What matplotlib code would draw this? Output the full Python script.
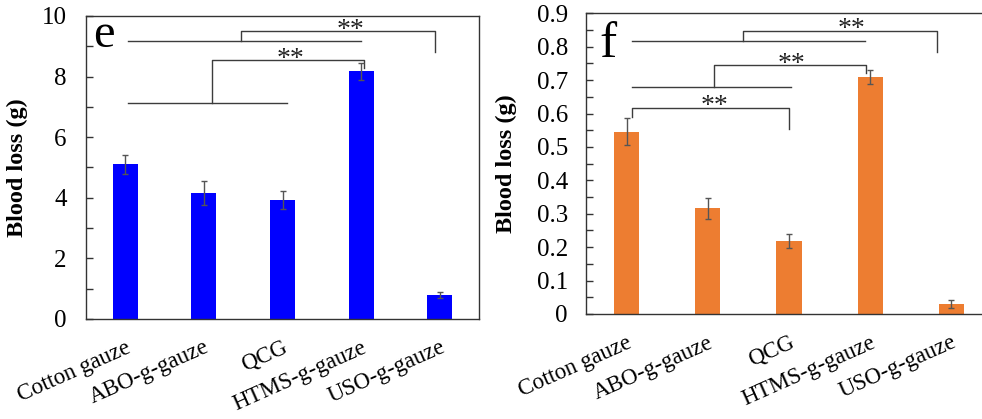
import numpy as np
import matplotlib.pyplot as plt
from matplotlib.ticker import MultipleLocator

plt.rcParams['font.family'] = ['Liberation Serif', 'DejaVu Serif']

groups = ['Cotton gauze', 'ABO-g-gauze', 'QCG', 'HTMS-g-gauze', 'USO-g-gauze']
loss_e = [5.1, 4.15, 3.92, 8.18, 0.79]
err_e = [0.3, 0.4, 0.3, 0.28, 0.1]
loss_f = [0.546, 0.316, 0.219, 0.709, 0.030]
err_f = [0.041, 0.031, 0.021, 0.020, 0.011]
ticks_e = [0, 2, 4, 6, 8, 10]
ticks_f = [0, 0.1, 0.2, 0.3, 0.4, 0.5, 0.6, 0.7, 0.8, 0.9]

LINE = '#3c3c3c'


def hline(ax, x0, x1, y):
    ax.plot([x0, x1], [y, y], color=LINE, lw=1.0, clip_on=False)


def bracket(ax, x0, x1, y, y0, y1, sx):
    ax.plot([x0, x0, x1, x1], [y0, y, y, y1], color=LINE, lw=1.0, clip_on=False)
    ax.annotate('**', (sx, y), xytext=(0, -4), textcoords='offset points',
                ha='center', va='baseline', fontsize=20, color='#222222')


def style(ax, ymax, ticks, minor, color, vals, errs, width, ypad):
    x = np.arange(len(groups))
    ax.bar(x, vals, width=width, color=color, zorder=2)
    ax.errorbar(x, vals, yerr=errs, fmt='none', ecolor='#555555',
                elinewidth=1.0, capsize=2, capthick=1.0, zorder=3)
    ax.set_xlim(-0.5, 4.5)
    ax.set_ylim(0, ymax)
    ax.set_yticks(ticks)
    ax.set_yticklabels(['0'] + [('%g' % t) for t in ticks[1:]])
    ax.yaxis.set_minor_locator(MultipleLocator(minor))
    ax.tick_params(axis='y', which='both', direction='in', length=5,
                   width=1, color='#333333', labelsize=18, pad=ypad)
    ax.set_xticks(x)
    ax.set_xticklabels(groups, rotation=24, ha='right', rotation_mode='anchor',
                       fontsize=16.5)
    ax.tick_params(axis='x', length=0, pad=13)
    for s in ax.spines.values():
        s.set_color('#333333')
        s.set_linewidth(1.0)
    ax.set_ylabel('Blood loss (g)', fontweight='bold', fontsize=17.5)


fig = plt.figure(figsize=(9.82, 4.19), dpi=100)

# panel e
ax1 = fig.add_axes([0.0876, 0.2387, 0.4002, 0.7232])
style(ax1, 10, ticks_e, 1, '#0000ff', loss_e, err_e, 0.32, 14)
ax1.yaxis.set_label_coords(-0.148, 0.5)
ax1.text(0.018, 0.898, 'e', transform=ax1.transAxes, fontsize=35, va='baseline')
hline(ax1, 0.04, 3.0, 9.16)
bracket(ax1, 1.47, 3.94, 9.5, 9.16, 8.8, 2.86)
hline(ax1, 0.04, 2.06, 7.12)
bracket(ax1, 1.1, 3.04, 8.54, 7.12, 8.27, 2.1)

# panel f
ax2 = fig.add_axes([0.5967, 0.2506, 0.4134, 0.7177])
style(ax2, 0.9, ticks_f, 0.05, '#ed7d31', loss_f, err_f, 0.31, 13)
ax2.yaxis.set_label_coords(-0.17, 0.5)
ax2.text(0.034, 0.856, 'f', transform=ax2.transAxes, fontsize=37, va='baseline')
hline(ax2, 0.063, 2.94, 0.817)
bracket(ax2, 1.44, 3.82, 0.848, 0.817, 0.783, 2.77)
hline(ax2, 0.063, 2.02, 0.680)
bracket(ax2, 1.08, 2.95, 0.744, 0.680, 0.720, 2.03)
bracket(ax2, 0.063, 2.0, 0.617, 0.589, 0.553, 1.08)

fig.savefig('out.png', dpi=100)
